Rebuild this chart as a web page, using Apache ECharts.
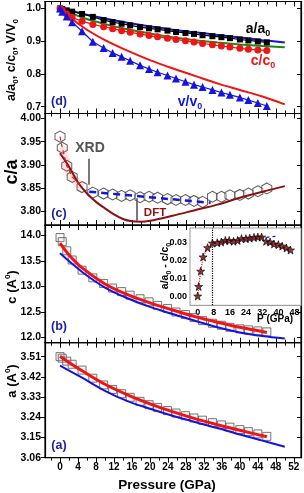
<!DOCTYPE html>
<html><head><meta charset="utf-8">
<script src="https://cdn.jsdelivr.net/npm/echarts@6/dist/echarts.min.js"></script>
<style>html,body{margin:0;padding:0;background:#fff}#c{width:304px;height:493px}</style>
</head><body><div id="c"></div><script>
// ---------- data ----------
const pressure = [0, 0.5, 1.5, 2.7, 4.9, 7.3, 9.7, 11.7, 13.7, 15.6, 17.8, 19.8, 21.7, 23.9, 25.8, 27.9, 29.8, 31.7, 33.9, 35.9, 37.8, 40, 41.9, 44, 46];
const aRatio = [1.000, 0.998, 0.994, 0.990, 0.983, 0.974, 0.964, 0.958, 0.953, 0.948, 0.943, 0.939, 0.936, 0.932, 0.928, 0.925, 0.922, 0.918, 0.915, 0.912, 0.909, 0.905, 0.902, 0.899, 0.896];
const cRatio = [1.000, 0.994, 0.983, 0.972, 0.961, 0.951, 0.944, 0.938, 0.932, 0.927, 0.922, 0.917, 0.913, 0.909, 0.905, 0.901, 0.897, 0.893, 0.889, 0.885, 0.882, 0.878, 0.875, 0.873, 0.871];
const vRatio = [1.000, 0.990, 0.975, 0.958, 0.930, 0.898, 0.879, 0.864, 0.852, 0.840, 0.826, 0.815, 0.805, 0.795, 0.786, 0.776, 0.767, 0.760, 0.751, 0.743, 0.736, 0.728, 0.720, 0.711, 0.702];
const cOverA = [3.961, 3.937, 3.898, 3.874, 3.852, 3.840, 3.838, 3.836, 3.833, 3.834, 3.830, 3.831, 3.829, 3.826, 3.824, 3.824, 3.822, 3.820, 3.831, 3.831, 3.834, 3.835, 3.838, 3.843, 3.849];
const cLattice = [13.96, 13.88, 13.70, 13.52, 13.32, 13.17, 13.06, 12.97, 12.90, 12.83, 12.76, 12.70, 12.63, 12.57, 12.50, 12.45, 12.39, 12.33, 12.28, 12.24, 12.20, 12.17, 12.15, 12.13, 12.11];
const aLattice = [3.510, 3.503, 3.490, 3.476, 3.450, 3.414, 3.384, 3.364, 3.345, 3.329, 3.311, 3.296, 3.284, 3.270, 3.259, 3.247, 3.237, 3.227, 3.216, 3.206, 3.196, 3.185, 3.176, 3.166, 3.155];
const ratioDiff = [0.0000, 0.0054, 0.0140, 0.0220, 0.0272, 0.0298, 0.0300, 0.0304, 0.0313, 0.0313, 0.0308, 0.0313, 0.0323, 0.0323, 0.0326, 0.0330, 0.0332, 0.0332, 0.0308, 0.0304, 0.0293, 0.0289, 0.0281, 0.0270, 0.0259];

const curveP = [0, 5, 10, 15, 20, 25, 30, 35, 40, 45, 50];
const aRatioCurve = [1.003, 0.984, 0.969, 0.956, 0.945, 0.935, 0.927, 0.919, 0.911, 0.903, 0.896];
const cRatioCurve = [1.000, 0.972, 0.952, 0.936, 0.923, 0.912, 0.903, 0.896, 0.890, 0.885, 0.881];
const vRatioCurve = [1.000, 0.944, 0.903, 0.871, 0.842, 0.817, 0.794, 0.771, 0.751, 0.731, 0.707];
const aDft = [3.470, 3.415, 3.358, 3.312, 3.278, 3.247, 3.219, 3.192, 3.163, 3.136, 3.109];
const cDft = [13.65, 13.28, 12.98, 12.77, 12.60, 12.46, 12.33, 12.20, 12.10, 12.03, 11.98];

const caDftP = [0, 2, 4, 6, 8, 10, 12, 14, 16, 18, 20, 25, 30, 35, 40, 45, 50];
const caDft = [3.925, 3.896, 3.862, 3.838, 3.820, 3.806, 3.793, 3.783, 3.778, 3.777, 3.779, 3.790, 3.802, 3.814, 3.829, 3.842, 3.854];

const fitP = [0, 2, 5, 10, 15, 20, 25, 30, 35, 40, 46];
const cFit = [13.85, 13.62, 13.36, 13.05, 12.84, 12.68, 12.54, 12.41, 12.30, 12.20, 12.10];
const aFit = [3.512, 3.484, 3.446, 3.387, 3.340, 3.300, 3.265, 3.234, 3.207, 3.182, 3.153];

const caTrendP = [6.5, 33.5];
const caTrend = [3.842, 3.818];
const diffTrendP = [7.5, 40];
const diffTrend = [0.0298, 0.0338];
const kinkP = 7;
const xrdArrowP = [6.3, 6.3], xrdArrowV = [3.913, 3.857];
const dftArrowP = [17.1, 17.1], dftArrowV = [3.828, 3.779];

const xMajor = [0,4,8,12,16,20,24,28,32,36,40,44,48,52];
const xMinor = [-2,2,6,10,14,18,22,26,30,34,38,42,46,50];
const yTicks = [[0.7,0.8,0.9,1.0],[3.80,3.85,3.90,3.95,4.00],[12.0,12.5,13.0,13.5,14.0],[3.06,3.15,3.24,3.33,3.42,3.51]];
const yDigits = [1,2,1,2];
const insetXTicks = [0,8,16,24,32,40,48];
const insetYTicks = [0,0.01,0.02,0.03];

// ---------- layout ----------
const FONT = '"Liberation Sans", Arial, sans-serif';
const L = 45, W = 256;
const xMin = -3.34, xMax = 53.6;
const gridBoxes = [
  {top:1.5, height:112},
  {top:113.5, height:111.5},
  {top:225, height:117.7},
  {top:342.7, height:115}
];
const yRanges = [[0.679,1.021],[3.770,4.011],[11.898,14.206],[3.06,3.572]];
const zip = (xs, ys) => xs.map((x,i)=>[x, ys[i]]);

const grid = gridBoxes.map(g => ({left:L, width:W, top:g.top, height:g.height, show:true, borderColor:'#000', borderWidth:1.2, backgroundColor:'transparent'}));
grid.push({left:190, width:111, top:228, height:77.3, show:true, borderColor:'#999', borderWidth:1, backgroundColor:'#fff', z:5});

const lab = {fontFamily:FONT, fontWeight:'bold', color:'#000'};
const xAxis = [], yAxis = [];
for (let i=0;i<4;i++){
  const mk = (pos, vals, len, inside, showLine, showLab) => ({
    gridIndex:i, type:'value', min:xMin, max:xMax, position:pos,
    axisLine:{show:showLine, onZero:false, lineStyle:{color:'#000', width:1.2}},
    axisTick:{show:true, customValues:vals, length:len, inside:inside, lineStyle:{color:'#000', width:1}},
    axisLabel:Object.assign({show:showLab, customValues:vals, fontSize:10, margin:5}, lab),
    splitLine:{show:false}
  });
  xAxis.push(mk('bottom', xMajor, 5, false, true, i===3));
  xAxis.push(mk('bottom', xMinor, 3, false, false, false));
  xAxis.push(mk('top', xMajor, 5, i===0, true, false));
  xAxis.push(mk('top', xMinor, 3, i===0, false, false));
  const d = yDigits[i];
  yAxis.push({gridIndex:i, type:'value', min:yRanges[i][0], max:yRanges[i][1], position:'left',
    axisLine:{show:true, onZero:false, lineStyle:{color:'#000', width:1.2}},
    axisTick:{show:true, customValues:yTicks[i], length:4, lineStyle:{color:'#000'}},
    axisLabel:Object.assign({customValues:yTicks[i], fontSize:10.5, margin:4, formatter:v=>v.toFixed(d)}, lab),
    splitLine:{show:false}});
  yAxis.push({gridIndex:i, type:'value', min:yRanges[i][0], max:yRanges[i][1], position:'right',
    axisLine:{show:true, onZero:false, lineStyle:{color:'#000', width:1.2}},
    axisTick:{show:true, customValues:yTicks[i], length:4, inside:true, lineStyle:{color:'#000'}},
    axisLabel:{show:false}, splitLine:{show:false}});
}
xAxis.push({gridIndex:4, type:'value', min:-3.8, max:51.2,
  axisLine:{show:true, onZero:false, lineStyle:{color:'#999'}},
  axisTick:{show:true, inside:true, length:3, customValues:insetXTicks, lineStyle:{color:'#000'}},
  axisLabel:Object.assign({customValues:insetXTicks, fontSize:9, margin:3}, lab), splitLine:{show:false}});
yAxis.push({gridIndex:4, type:'value', min:-0.0052, max:0.0383,
  axisLine:{show:true, onZero:false, lineStyle:{color:'#999'}},
  axisTick:{show:true, inside:true, length:3, customValues:insetYTicks, lineStyle:{color:'#000'}},
  axisLabel:Object.assign({customValues:insetYTicks, fontSize:9, margin:3, formatter:v=>v.toFixed(2)}, lab), splitLine:{show:false}});

const BLUE='#1414e0', RED='#f01414', GREEN='#178a17', DRED='#8b1212';
const HEX='path://M0,-10L8.66,-5L8.66,5L0,10L-8.66,5L-8.66,-5Z';
const STAR='path://M0,-10L2.35,-3.24L9.51,-3.09L3.8,1.24L5.88,8.09L0,4L-5.88,8.09L-3.8,1.24L-9.51,-3.09L-2.35,-3.24Z';
const ax = i => ({xAxisIndex:4*i, yAxisIndex:2*i});
const curve = (i, data, color, width, extra) => Object.assign({type:'line', data, showSymbol:false, symbol:'none', smooth:0.35, lineStyle:{color, width}, itemStyle:{color}, silent:true}, ax(i), extra||{});

const series = [
  // (d)
  curve(0, zip(curveP, aRatioCurve), BLUE, 2),
  {type:'line', ...ax(0), data:zip(pressure, aRatio), symbol:'rect', symbolSize:6, lineStyle:{color:'#000', width:1.2}, itemStyle:{color:'#000'}},
  curve(0, zip(curveP, cRatioCurve), GREEN, 2),
  {type:'line', ...ax(0), data:zip(pressure, cRatio), symbol:'circle', symbolSize:7, lineStyle:{color:RED, width:1.2}, itemStyle:{color:RED}},
  curve(0, zip(curveP, vRatioCurve), RED, 2),
  {type:'line', ...ax(0), data:zip(pressure, vRatio), symbol:'triangle', symbolSize:8, lineStyle:{color:BLUE, width:1.2}, itemStyle:{color:BLUE}},
  // (c)
  curve(1, zip(pressure.slice(1,5), cOverA.slice(1,5)), 'rgba(255,60,60,0.15)', 9, {smooth:0.3}),
  curve(1, zip(caDftP, caDft), DRED, 2, {markLine:{silent:true, symbol:['none','arrow'], symbolSize:[0,8], label:{show:false},
    lineStyle:{color:'#555', width:1.6, type:'solid'},
    data:[[{coord:[xrdArrowP[0], xrdArrowV[0]]},{coord:[xrdArrowP[1], xrdArrowV[1]]}],
          [{coord:[dftArrowP[0], dftArrowV[0]]},{coord:[dftArrowP[1], dftArrowV[1]]}]]}}),
  {type:'scatter', ...ax(1), data:zip(pressure, cOverA), symbol:HEX, symbolSize:[10,11], itemStyle:{color:'rgba(255,255,255,0.6)', borderColor:'#333', borderWidth:1}},
  curve(1, zip(pressure.slice(0,5), cOverA.slice(0,5)), RED, 1.2, {smooth:false, lineStyle:{color:RED, width:1.2, type:[4,3]}}),
  curve(1, zip(caTrendP, caTrend), BLUE, 2.5, {smooth:false, lineStyle:{color:BLUE, width:2.5, type:[7,5]}}),
  // (b)
  {type:'scatter', ...ax(2), data:zip(pressure, cLattice), symbol:'rect', symbolSize:8, itemStyle:{color:'rgba(220,220,220,0.25)', borderColor:'#555', borderWidth:1}},
  curve(2, zip(curveP, cDft), BLUE, 2),
  curve(2, zip(fitP, cFit), RED, 3),
  // (a)
  {type:'scatter', ...ax(3), data:zip(pressure, aLattice), symbol:'rect', symbolSize:8, itemStyle:{color:'rgba(220,220,220,0.25)', borderColor:'#555', borderWidth:1}},
  curve(3, zip(curveP, aDft), BLUE, 2),
  curve(3, zip(fitP, aFit), RED, 3),
  // inset
  {type:'line', xAxisIndex:16, yAxisIndex:8, z:6, data:zip(pressure.slice(0,6), ratioDiff.slice(0,6)), symbol:'none', lineStyle:{color:RED, width:1.2, type:'dotted'},
    markLine:{silent:true, symbol:['none','none'], label:{show:false}, lineStyle:{color:'#000', type:'dotted', width:1.2}, data:[{xAxis:kinkP}]}},
  {type:'line', xAxisIndex:16, yAxisIndex:8, z:6, data:zip(diffTrendP, diffTrend), symbol:'none', lineStyle:{color:BLUE, width:1.2, type:[3,3]}},
  {type:'scatter', xAxisIndex:16, yAxisIndex:8, z:7, data:zip(pressure, ratioDiff), symbol:STAR, symbolSize:8, itemStyle:{color:'#7a0c0c', borderColor:'#000', borderWidth:0.8}}
];

// ---------- text ----------
const sub = (main, s, size, color) => ({
  text:`{n|${main}}{s|${s}}`,
  rich:{n:{fontFamily:FONT, fontWeight:'bold', fontSize:size, fill:color, lineHeight:size+2},
        s:{fontFamily:FONT, fontWeight:'bold', fontSize:Math.round(size*0.62), fill:color, lineHeight:Math.round(size*0.62), verticalAlign:'bottom'}}
});
function T(x, y, text, size, color, rot, extra){
  return {type:'text', x, y, rotation:rot||0, z:100, silent:true,
    style:Object.assign({text, font:`bold ${size}px ${FONT}`, fill:color, align:'center', verticalAlign:'middle'}, extra||{})};
}
function R(x, y, parts, size, color, rot){
  // parts: array of [text, kind] kind: n / s(sub) / p(sup)
  const small = Math.round(size*0.62);
  const rich = {
    n:{fontFamily:FONT, fontWeight:'bold', fontSize:size, fill:color, lineHeight:size+4, verticalAlign:'middle'},
    s:{fontFamily:FONT, fontWeight:'bold', fontSize:small, fill:color, lineHeight:small, verticalAlign:'bottom'},
    p:{fontFamily:FONT, fontWeight:'bold', fontSize:small, fill:color, lineHeight:small, verticalAlign:'top'}
  };
  const text = parts.map(([t,k])=>`{${k}|${t}}`).join('');
  return {type:'text', x, y, rotation:rot||0, z:100, silent:true, style:{text, rich, align:'center', verticalAlign:'middle'}};
}
const ROT = Math.PI/2;
const NAVY = '#1e1ea0';
const graphic = [
  R(12, 60, [['a/a','n'],['0','s'],[', c/c','n'],['0','s'],[', V/V','n'],['0','s']], 12.5, '#000', ROT),
  T(12, 172, 'c/a', 18, '#000', ROT),
  R(12, 287, [['c (A','n'],['0','p'],[')','n']], 13, '#000', ROT),
  R(12, 381, [['a (A','n'],['0','p'],[')','n']], 13, '#000', ROT),
  T(167, 485, 'Pressure (GPa)', 13.5, '#000'),
  T(59, 102, '(d)', 12.5, NAVY), T(59, 214, '(c)', 12.5, NAVY), T(59, 327, '(b)', 12.5, NAVY), T(59, 446, '(a)', 12.5, NAVY),
  R(258, 29, [['a/a','n'],['0','s']], 14, '#000'),
  R(263, 61, [['c/c','n'],['0','s']], 14, RED),
  R(190, 102, [['v/v','n'],['0','s']], 14, BLUE),
  T(90, 148, 'XRD', 14, '#555'),
  T(155, 213, 'DFT', 11.5, DRED),
  R(165, 266, [['a/a','n'],['0','s'],[' - c/c','n'],['0','s']], 10.5, '#000', ROT),
  T(275, 319, 'P (GPa)', 10, '#000')
];

const chart = echarts.init(document.getElementById('c'), null, {renderer:'canvas'});
chart.setOption({animation:false, backgroundColor:'#fff', grid, xAxis, yAxis, series, graphic});
</script></body></html>
